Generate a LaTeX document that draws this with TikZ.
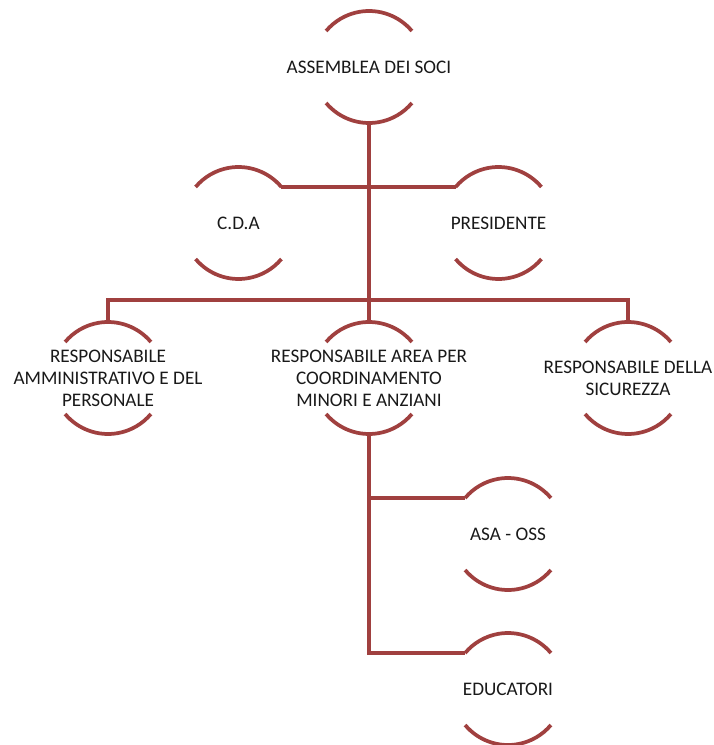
\documentclass[tikz,border=0pt]{standalone}
\usepackage{fontspec}
\setmainfont{Carlito}
\usepackage{tikz}
\definecolor{orgred}{RGB}{160,64,63}

\begin{document}
\begin{tikzpicture}[x=0.75pt,y=0.75pt]
        \tikzstyle{member}=[circle,minimum size=84pt,inner sep=0pt,outer sep=0pt]
        \tikzstyle{caption}=[font=\fontsize{14.4}{16.5}\selectfont,text=black!90,align=center,inner sep=0pt]
        \tikzstyle{link}=[draw=orgred,line width=2.8pt]

        \useasboundingbox (0,0) rectangle (713,-745);

        \node[member,label={[caption]center:ASSEMBLEA DEI SOCI}] (soci) at (369,-67) {};

        \node[member,label={[caption]center:C.D.A}] (cda) at (238.5,-223) {};
        \node[member,label={[caption]center:PRESIDENTE}] (pres) at (498.5,-223) {};

        \node[member,label={[caption]center:RESPONSABILE\\AMMINISTRATIVO E DEL\\PERSONALE}] (admin) at (108,-378) {};
        \node[member,label={[caption]center:RESPONSABILE AREA PER\\COORDINAMENTO\\MINORI E ANZIANI}] (area) at (369,-378) {};
        \node[member,label={[caption]center:RESPONSABILE DELLA\\SICUREZZA}] (sicur) at (628,-378) {};

        \node[member,label={[caption]center:ASA - OSS}] (asa) at (508,-534) {};
        \node[member,label={[caption]center:EDUCATORI}] (edu) at (508,-689) {};

        % arcs above and below each text
        \foreach \n in {soci,cda,pres,admin,area,sicur,asa,edu} {
            \draw[link] (\n.40) arc[start angle=40,end angle=140,radius=42pt];
            \draw[link] (\n.220) arc[start angle=220,end angle=320,radius=42pt];
        }

        \coordinate (bus) at (369,-300);

        \draw[link] (soci.south) -- (area.north);
        \draw[link] (cda.40) -- (pres.140);
        \draw[link] (admin.north) |- (bus) -| (sicur.north);
        \draw[link] (area.south) |- (asa.140);
        \draw[link] (area.south) |- (edu.140);

\end{tikzpicture}
\end{document}
